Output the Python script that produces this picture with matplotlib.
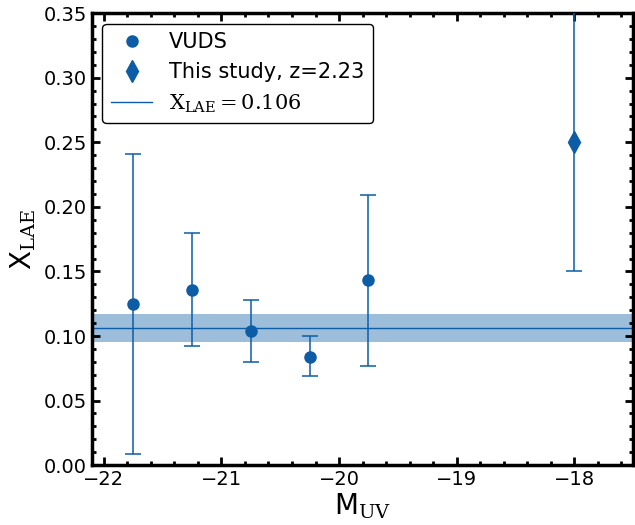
import numpy as np
import matplotlib
matplotlib.use("Agg")
from matplotlib import pyplot as plt
from matplotlib.ticker import MultipleLocator, FormatStrFormatter
from matplotlib.lines import Line2D

plt.rcParams['mathtext.fontset'] = 'dejavuserif'

# VUDS points
muv_vuds = [-21.75, -21.25, -20.75, -20.25, -19.75]
x_vuds = [0.125, 0.136, 0.104, 0.084, 0.143]
lo_vuds = [0.009, 0.092, 0.080, 0.069, 0.077]
hi_vuds = [0.241, 0.180, 0.128, 0.100, 0.209]

# this study
muv_this = [-18.0]
x_this = [0.25]
lo_this = [0.150]
hi_this = [0.36]

x_mean = 0.106
x_band = [0.095, 0.117]

col = '#0C5DA5'

fig = plt.figure(figsize=(6.35, 5.25), dpi=100)
ax = fig.add_axes([0.145, 0.114, 0.852, 0.861])

yerr_v = [np.array(x_vuds) - np.array(lo_vuds), np.array(hi_vuds) - np.array(x_vuds)]
ax.errorbar(muv_vuds, x_vuds, yerr=yerr_v, fmt='o', color=col, ms=8,
            capsize=5.5, elinewidth=1.1, capthick=1.1, zorder=3)
yerr_t = [np.array(x_this) - np.array(lo_this), np.array(hi_this) - np.array(x_this)]
ax.errorbar(muv_this, x_this, yerr=yerr_t, fmt='d', color=col, ms=11,
            capsize=5.5, elinewidth=1.1, capthick=1.1, zorder=3)
ax.axhline(x_mean, color=col, lw=1)
ax.axhspan(x_band[0], x_band[1], color=col, alpha=0.4, lw=0)

ax.set_xlim(-22.1, -17.5)
ax.set_ylim(0, 0.35)
ax.xaxis.set_major_locator(MultipleLocator(1))
ax.xaxis.set_minor_locator(MultipleLocator(0.2))
ax.yaxis.set_major_locator(MultipleLocator(0.05))
ax.yaxis.set_minor_locator(MultipleLocator(0.01))
ax.yaxis.set_major_formatter(FormatStrFormatter('%.2f'))
ax.tick_params(which='both', direction='in', top=True, right=True, labelsize=14, width=2)
ax.tick_params(which='major', length=6)
ax.tick_params(which='minor', length=3)
for s in ax.spines.values():
    s.set_linewidth(2.5)

ax.set_xlabel(r'M$_{\rm UV}$', fontsize=20, labelpad=2)
ax.set_ylabel(r'X$_{\rm LAE}$', fontsize=20)

handles = [
    Line2D([], [], ls='none', marker='o', color=col, ms=8),
    Line2D([], [], ls='none', marker='d', color=col, ms=11),
    Line2D([], [], color=col, lw=1),
]
labels = ['VUDS', 'This study, z=2.23', r'$\mathrm{X_{LAE}} = 0.106$']
leg = ax.legend(handles, labels, loc='upper left', fontsize=15, frameon=True,
                fancybox=True, edgecolor='black', framealpha=1)
leg.get_frame().set_linewidth(1)

fig.savefig('out.png', dpi=100)
